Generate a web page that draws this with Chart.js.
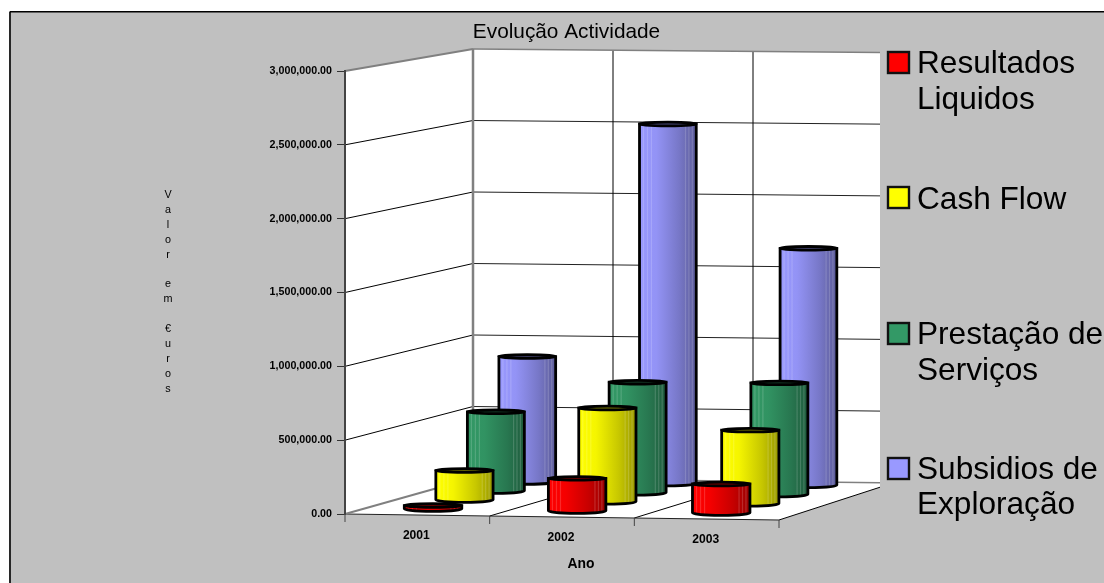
<!DOCTYPE html>
<html>
<head>
<meta charset="utf-8">
<title>Evolução Actividade</title>
<script src="https://cdn.jsdelivr.net/npm/chart.js@4"></script>
<style>
  html, body { margin: 0; padding: 0; background: #fff; }
  canvas { display: block; }
</style>
</head>
<body>
<canvas id="activity-chart" width="1104" height="583"></canvas>
<script>
'use strict';

const years = ['2001', '2002', '2003'];
const resultadosLiquidos = [22000, 220000, 195000];
const cashFlow = [200000, 641000, 502000];
const prestacaoServicos = [545000, 761000, 768000];
const subsidiosExploracao = [871000, 2499000, 1645000];

const seriesNames = ['Resultados Liquidos', 'Cash Flow', 'Prestação de Serviços', 'Subsidios de Exploração'];
const seriesColors = ['#ff0000', '#ffff00', '#339966', '#9999ff'];
const legendLines = [['Resultados', 'Liquidos'], ['Cash Flow'], ['Prestação de', 'Serviços'], ['Subsidios de', 'Exploração']];
const yTitleLetters = ['V', 'a', 'l', 'o', 'r', '', 'e', 'm', '', '€', 'u', 'r', 'o', 's'];

const FONT = '"Liberation Sans", Arial, sans-serif';
const PANEL = '#c0c0c0';
const CLIP_X = 880;

// depth projection: depth 0 is the axis plane, depth 1 the back wall
function project(chart, u, depth, yPixel) {
  const { left, width, bottom } = chart.chartArea;
  const rise = bottom - yPixel;
  const frontX = left + width * u;
  const frontY = bottom + 6 * u - rise;
  const backX = 473 + 420 * u;
  const backY = 478 + 5 * u - rise * ((429 + 1.5 * u) / 443);
  return [frontX + (backX - frontX) * depth, frontY + (backY - frontY) * depth];
}

function line(ctx, a, b, color, lineWidth) {
  ctx.strokeStyle = color;
  ctx.lineWidth = lineWidth;
  ctx.beginPath();
  ctx.moveTo(a[0], a[1]);
  ctx.lineTo(b[0], b[1]);
  ctx.stroke();
}

function shade(hex, f) {
  const n = parseInt(hex.slice(1), 16);
  const c = [n >> 16, (n >> 8) & 255, n & 255].map((v) => Math.round(v * f));
  return `rgb(${c[0]}, ${c[1]}, ${c[2]})`;
}

function drawWalls(chart) {
  const ctx = chart.ctx;
  const y = chart.scales.y;
  const P = (u, d, v) => project(chart, u, d, y.getPixelForValue(v));
  const uEnd = (CLIP_X - 473) / 420;

  ctx.save();
  // page and grey panel
  ctx.fillStyle = '#fff';
  ctx.fillRect(0, 0, chart.width, chart.height);
  ctx.fillStyle = PANEL;
  ctx.fillRect(9, 11, chart.width - 9, chart.height - 11);
  line(ctx, [10, 11.8], [chart.width, 11.8], '#000', 1.6);
  line(ctx, [10, 11.8], [10, chart.height], '#000', 1.6);

  ctx.beginPath();
  ctx.rect(0, 0, CLIP_X, chart.height);
  ctx.clip();

  // walls and floor
  const poly = [P(0, 0, 3000000), P(0, 1, 3000000), P(1, 1, 3000000), P(1, 1, 0), P(1, 0, 0), P(0, 0, 0)];
  ctx.fillStyle = '#fff';
  ctx.beginPath();
  poly.forEach((p, i) => (i ? ctx.lineTo(p[0], p[1]) : ctx.moveTo(p[0], p[1])));
  ctx.closePath();
  ctx.fill();

  // gridlines
  y.ticks.forEach((t) => {
    if (t.value === 0 || t.value === 3000000) return;
    line(ctx, P(0, 0, t.value), P(0, 1, t.value), '#000', 1);
    line(ctx, P(0, 1, t.value), P(uEnd, 1, t.value), '#222', 1);
  });
  [1 / 3, 2 / 3].forEach((u) => {
    line(ctx, P(u, 1, 0), P(u, 1, 3000000), '#000', 1);
    line(ctx, P(u, 0, 0), P(u, 1, 0), '#000', 1);
  });
  line(ctx, P(1, 0, 0), P(1, 1, 0), '#000', 1);
  line(ctx, P(0, 0, 0), P(1, 0, 0), '#222', 1);
  [0, 1 / 3, 2 / 3, 1].forEach((u) => {
    const p = P(u, 0, 0);
    line(ctx, p, [p[0], p[1] + 8], '#444', 1);
  });

  // grey edges of the walls
  line(ctx, P(0, 0, 3000000), P(0, 1, 3000000), '#808080', 2);
  line(ctx, P(0, 1, 3000000), P(uEnd, 1, 3000000), '#808080', 1.5);
  line(ctx, P(0, 1, 3000000), P(0, 1, 0), '#808080', 2.5);
  line(ctx, P(0, 0, 0), P(0, 1, 0), '#808080', 2);
  line(ctx, P(0, 1, 0), P(uEnd, 1, 0), '#808080', 1.5);
  ctx.restore();
}

function drawCylinders(chart, index) {
  const ctx = chart.ctx;
  const { x, y } = chart.scales;
  const { left, width } = chart.chartArea;
  const color = seriesColors[index];
  const depth = (index + 0.5) / seriesNames.length;

  chart.data.datasets[index].data.forEach((value, i) => {
    const u = (x.getPixelForValue(i) - left) / width;
    const base = project(chart, u, depth, y.getPixelForValue(0));
    const top = project(chart, u, depth, y.getPixelForValue(value));
    const rx = 28.8 - 0.5 * depth;
    const cx = base[0];
    const baseY = base[1] - 1.7; // cylinders stand a little inside the floor cell
    const topY = top[1] - 1.7;

    const grad = ctx.createLinearGradient(cx - rx, 0, cx + rx, 0);
    grad.addColorStop(0, shade(color, 1));
    grad.addColorStop(0.3, shade(color, 0.96));
    grad.addColorStop(0.7, shade(color, 0.78));
    grad.addColorStop(1, shade(color, 0.6));

    ctx.save();
    ctx.beginPath();
    ctx.moveTo(cx - rx, topY);
    ctx.lineTo(cx - rx, baseY);
    ctx.ellipse(cx, baseY, rx, 2.6, 0, Math.PI, 0, true);
    ctx.lineTo(cx + rx, topY);
    ctx.closePath();
    ctx.fillStyle = grad;
    ctx.fill();

    // light banding near both edges
    ctx.save();
    ctx.clip();
    ctx.fillStyle = 'rgba(255, 255, 255, 0.16)';
    [0.06, 0.13, 0.2, 0.8, 0.86, 0.92].forEach((f) => {
      ctx.fillRect(cx - rx + 2 * rx * f, topY, 1.2, baseY - topY + 2.6);
    });
    ctx.restore();

    ctx.strokeStyle = '#000';
    ctx.lineWidth = 2.8;
    ctx.stroke();

    // top of the cylinder
    ctx.beginPath();
    ctx.ellipse(cx, topY, rx, 1.8, 0, 0, Math.PI * 2);
    ctx.fillStyle = shade(color, 0.5);
    ctx.fill();
    ctx.stroke();
    ctx.restore();
  });
}

function drawTexts(chart) {
  const ctx = chart.ctx;
  const { x, y } = chart.scales;
  const { left, width } = chart.chartArea;
  ctx.save();
  ctx.fillStyle = '#000';
  ctx.textAlign = 'center';
  ctx.textBaseline = 'middle';

  ctx.font = `20.8px ${FONT}`;
  ctx.fillText('Evolução Actividade', 566.5, 32);

  // value axis title, one letter under the other
  ctx.font = `10.8px ${FONT}`;
  yTitleLetters.forEach((ch, i) => ctx.fillText(ch, 168, 195 + i * 14.9));

  // year labels follow the slope of the floor
  ctx.font = `bold 12.1px ${FONT}`;
  years.forEach((yr, i) => {
    const u = (x.getPixelForValue(i) - left) / width;
    const p = project(chart, u, 0, y.getPixelForValue(0));
    ctx.fillText(yr, p[0] - 1, p[1] + 21);
  });
  ctx.font = `bold 13.9px ${FONT}`;
  ctx.fillText('Ano', 581, 564);

  // legend
  const legendBoxY = [52, 187, 323, 458];
  const legendBase = [[72.5, 108.5], [208.5], [343.5, 379.5], [478.5, 513.5]];
  ctx.textAlign = 'left';
  ctx.textBaseline = 'alphabetic';
  ctx.font = `31.6px ${FONT}`;
  seriesColors.forEach((c, i) => {
    ctx.fillStyle = c;
    ctx.fillRect(888, legendBoxY[i], 21, 21);
    ctx.strokeStyle = '#111';
    ctx.lineWidth = 2.4;
    ctx.strokeRect(888, legendBoxY[i], 21, 21);
    ctx.fillStyle = '#000';
    legendLines[i].forEach((t, j) => ctx.fillText(t, 917, legendBase[i][j]));
  });
  ctx.restore();
}

const activityPlugin = {
  id: 'activity3d',
  beforeDraw: drawWalls,
  beforeDatasetDraw(chart, args) {
    drawCylinders(chart, args.index);
    return false;
  },
  afterDraw: drawTexts,
};

new Chart(document.getElementById('activity-chart'), {
  type: 'bar',
  data: {
    labels: years,
    datasets: [
      { label: seriesNames[0], data: resultadosLiquidos, backgroundColor: seriesColors[0] },
      { label: seriesNames[1], data: cashFlow, backgroundColor: seriesColors[1] },
      { label: seriesNames[2], data: prestacaoServicos, backgroundColor: seriesColors[2] },
      { label: seriesNames[3], data: subsidiosExploracao, backgroundColor: seriesColors[3] },
    ],
  },
  options: {
    responsive: false,
    animation: false,
    layout: { padding: { left: 0, right: 325, top: 71, bottom: 0 } },
    plugins: { legend: { display: false }, title: { display: false }, tooltip: { enabled: false } },
    scales: {
      x: {
        grid: { display: false },
        border: { display: false },
        ticks: { display: false },
        afterFit(scale) { scale.height = 69; },
      },
      y: {
        min: 0,
        max: 3000000,
        afterFit(scale) { scale.width = 345; },
        grid: { drawOnChartArea: false, tickLength: 8, color: '#333' },
        border: { color: '#444', width: 2 },
        ticks: {
          stepSize: 500000,
          color: '#000',
          padding: 5,
          font: { family: FONT, size: 10.7, weight: 'bold' },
          callback: (v) => v.toLocaleString('en-US', { minimumFractionDigits: 2, maximumFractionDigits: 2 }),
        },
      },
    },
  },
  plugins: [activityPlugin],
});
</script>
</body>
</html>
